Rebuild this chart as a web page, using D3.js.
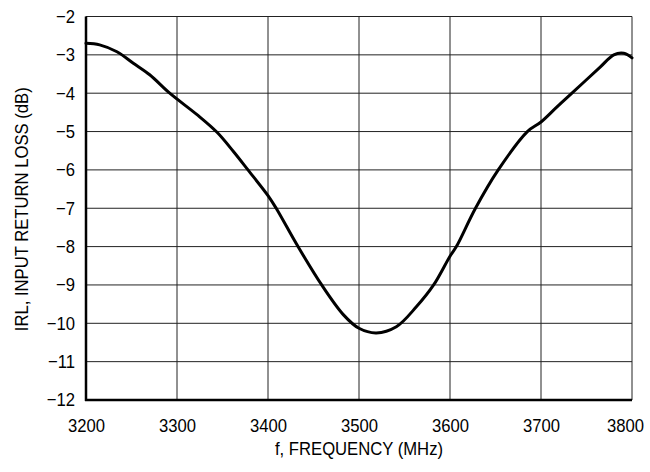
<!DOCTYPE html>
<html>
<head>
<meta charset="utf-8">
<script src="https://cdn.jsdelivr.net/npm/d3@7"></script>
<style>
  html, body { margin: 0; padding: 0; background: #fff; }
  svg text { font-family: "Liberation Sans", Arial, Helvetica, sans-serif; fill: #000; }
</style>
</head>
<body>
<svg id="chart" width="650" height="472"></svg>
<script>
const freqMHz = [3200, 3215, 3234, 3252, 3270, 3292, 3322, 3344, 3362, 3378, 3400, 3409, 3433, 3459, 3483, 3500, 3519, 3541, 3563, 3582, 3600, 3607, 3628, 3653, 3685, 3700, 3717, 3734, 3765, 3780, 3791, 3800];
const irlDb   = [-2.70, -2.74, -2.92, -3.22, -3.52, -4.0, -4.56, -5.02, -5.52, -6.0, -6.67, -7.0, -8.0, -9.0, -9.78, -10.13, -10.25, -10.09, -9.57, -9.0, -8.25, -8.0, -7.0, -6.0, -5.0, -4.75, -4.37, -4.0, -3.32, -3.0, -2.96, -3.08];
const xTicks = [3200, 3300, 3400, 3500, 3600, 3700, 3800];
const yTicks = [-2, -3, -4, -5, -6, -7, -8, -9, -10, -11, -12];
const xTitle = "f, FREQUENCY (MHz)";
const yTitle = "IRL, INPUT RETURN LOSS (dB)";

const svg = d3.select("#chart");
const m = { left: 86, right: 18, top: 16.5, bottom: 72 };
const W = 650, H = 472;
const FS = 18.5, SQUEEZE = 0.9;
const x = d3.scaleLinear().domain([3200, 3800]).range([m.left, W - m.right]);
const y = d3.scaleLinear().domain([-12, -2]).range([H - m.bottom, m.top]);

const fmt = v => (v < 0 ? "\u2212" + Math.abs(v) : String(v));
function condense(sel) {
  sel.each(function () {
    const w = this.getComputedTextLength();
    this.setAttribute("textLength", (w * SQUEEZE).toFixed(2));
    this.setAttribute("lengthAdjust", "spacingAndGlyphs");
  });
}

// grid
const grid = svg.append("g");
grid.selectAll("line.v").data(xTicks).join("line")
  .attr("x1", d => x(d)).attr("x2", d => x(d))
  .attr("y1", y(-2)).attr("y2", y(-12))
  .attr("stroke", "#222").attr("stroke-width", 1);
grid.selectAll("line.h").data(yTicks).join("line")
  .attr("x1", x(3200)).attr("x2", x(3800))
  .attr("y1", d => y(d)).attr("y2", d => y(d))
  .attr("stroke", "#222").attr("stroke-width", 1);

// axes (labels only)
const xAxis = d3.axisBottom(x).tickValues(xTicks).tickSize(0).tickPadding(19).tickFormat(d3.format("d"));
const gx = svg.append("g").attr("transform", `translate(0,${y(-12)})`).call(xAxis);
gx.select(".domain").remove();
gx.selectAll("text").attr("font-size", FS).style("font-family", null).call(condense);
gx.selectAll(".tick").filter(d => d === 3800).select("text").attr("dx", -7);

const yAxis = d3.axisLeft(y).tickValues(yTicks).tickSize(0).tickPadding(11).tickFormat(fmt);
const gy = svg.append("g").attr("transform", `translate(${x(3200)},0)`).call(yAxis);
gy.select(".domain").remove();
gy.selectAll("text").attr("font-size", FS).style("font-family", null).call(condense);

// frame: thick left & bottom
svg.append("line").attr("x1", x(3200)).attr("x2", x(3200)).attr("y1", y(-2)).attr("y2", y(-12) + 1)
  .attr("stroke", "#000").attr("stroke-width", 2.5);
svg.append("line").attr("x1", x(3200) - 1).attr("x2", x(3800)).attr("y1", y(-12)).attr("y2", y(-12))
  .attr("stroke", "#000").attr("stroke-width", 2.5);

// curve
const line = d3.line().x((d, i) => x(freqMHz[i])).y(d => y(d)).curve(d3.curveCatmullRom.alpha(0.5));
svg.append("path").datum(irlDb).attr("d", line)
  .attr("fill", "none").attr("stroke", "#000").attr("stroke-width", 3)
  .attr("stroke-linejoin", "round").attr("stroke-linecap", "round");

// titles
svg.append("text").attr("x", (x(3200) + x(3800)) / 2).attr("y", 455)
  .attr("text-anchor", "middle").attr("font-size", FS).text(xTitle).call(condense);
svg.append("text").attr("transform", `translate(28,${(y(-2) + y(-12)) / 2 + 1}) rotate(-90)`)
  .attr("text-anchor", "middle").attr("font-size", FS).text(yTitle).call(condense);
</script>
</body>
</html>
